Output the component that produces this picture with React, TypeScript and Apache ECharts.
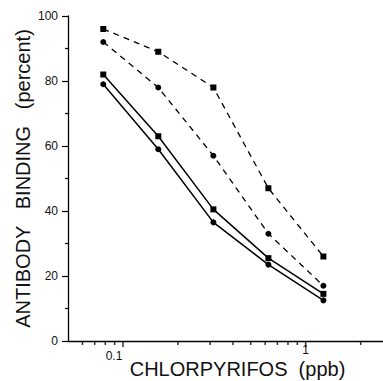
import React, { useEffect, useRef } from "react";
import * as echarts from "echarts";

const concentrations = [0.078, 0.156, 0.3125, 0.625, 1.25];
const dashedSquares = [96, 89, 78, 47, 26];
const dashedCircles = [92, 78, 57, 33, 17];
const solidSquares = [82, 63, 40.5, 25.5, 14.5];
const solidCircles = [79, 59, 36.5, 23.5, 12.5];
const majorXTicks = [0.1, 1];
const minorXTicks = [0.06, 0.07, 0.08, 0.09, 0.2, 0.3, 0.4, 0.5, 0.6, 0.7, 0.8, 0.9, 2];

const FONT = "Liberation Sans";

function pairs(ys: number[]) {
  return concentrations.map((x, i) => [x, ys[i]]);
}

function tickSeries(values: number[], len: number) {
  return {
    type: "scatter",
    clip: false,
    silent: true,
    data: values.map((v) => [v, 0]),
    symbol: "rect",
    symbolSize: [1.5, len],
    symbolOffset: [0, len / 2],
    itemStyle: { color: "#000" },
    z: 5,
  };
}

export default function App() {
  const ref = useRef<HTMLDivElement>(null);
  useEffect(() => {
    if (!ref.current) return;
    const chart = echarts.init(ref.current, undefined, { renderer: "svg" });
    const lineSeries = (data: number[], dashed: boolean, symbol: string) => ({
      type: "line",
      data: pairs(data),
      symbol,
      symbolSize: 6,
      showSymbol: true,
      itemStyle: { color: "#000" },
      lineStyle: {
        color: "#000",
        width: dashed ? 1.3 : 1.5,
        type: dashed ? [6, 5] : "solid",
      },
      z: 3,
    });
    chart.setOption({
      animation: false,
      grid: { left: 68, right: 0, top: 16, bottom: 40, containLabel: false, outerBoundsMode: "none" },
      xAxis: {
        type: "log",
        logBase: 10,
        min: 0.05,
        max: 2.65,
        name: "CHLORPYRIFOS  (ppb)",
        nameLocation: "middle",
        nameGap: 18,
        nameMoveOverlap: false,
        nameTextStyle: {
          fontFamily: FONT,
          fontSize: 20,
          color: "#111",
          padding: [0, 0, 0, 24],
        },
        axisLine: { show: true, onZero: false, lineStyle: { color: "#000", width: 1.3 } },
        axisTick: { show: false },
        minorTick: { show: false },
        splitLine: { show: false },
        axisLabel: {
          showMinLabel: false,
          showMaxLabel: false,
          margin: 3,
          fontFamily: FONT,
          fontSize: 12,
          color: "#111",
          formatter: (v: number) => (v < 0.5 ? "{a|0.1}" : "{b|1}"),
          rich: {
            a: { fontFamily: FONT, fontSize: 12, color: "#111", padding: [6, 18, 0, 0] },
            b: { fontFamily: FONT, fontSize: 12, color: "#111" },
          },
        },
      },
      yAxis: {
        type: "value",
        min: 0,
        max: 100,
        interval: 20,
        name: "ANTIBODY   BINDING   (percent)",
        nameLocation: "middle",
        nameGap: 35,
        nameMoveOverlap: false,
        nameTextStyle: { fontFamily: FONT, fontSize: 20, color: "#111" },
        axisLine: { show: true, lineStyle: { color: "#000", width: 1.3 } },
        axisTick: { show: true, length: 6, lineStyle: { color: "#000", width: 1.2 } },
        minorTick: { show: true, splitNumber: 2, length: 3, lineStyle: { color: "#000", width: 1.2 } },
        splitLine: { show: false },
        axisLabel: { margin: 10, fontFamily: FONT, fontSize: 12, color: "#111" },
      },
      series: [
        lineSeries(dashedSquares, true, "rect"),
        lineSeries(dashedCircles, true, "circle"),
        lineSeries(solidSquares, false, "rect"),
        lineSeries(solidCircles, false, "circle"),
        tickSeries(majorXTicks, 6),
        tickSeries(minorXTicks, 4),
      ],
    });
    return () => chart.dispose();
  }, []);
  return <div ref={ref} style={{ width: 383, height: 381, position: "absolute", left: 0, top: 0 }} />;
}
